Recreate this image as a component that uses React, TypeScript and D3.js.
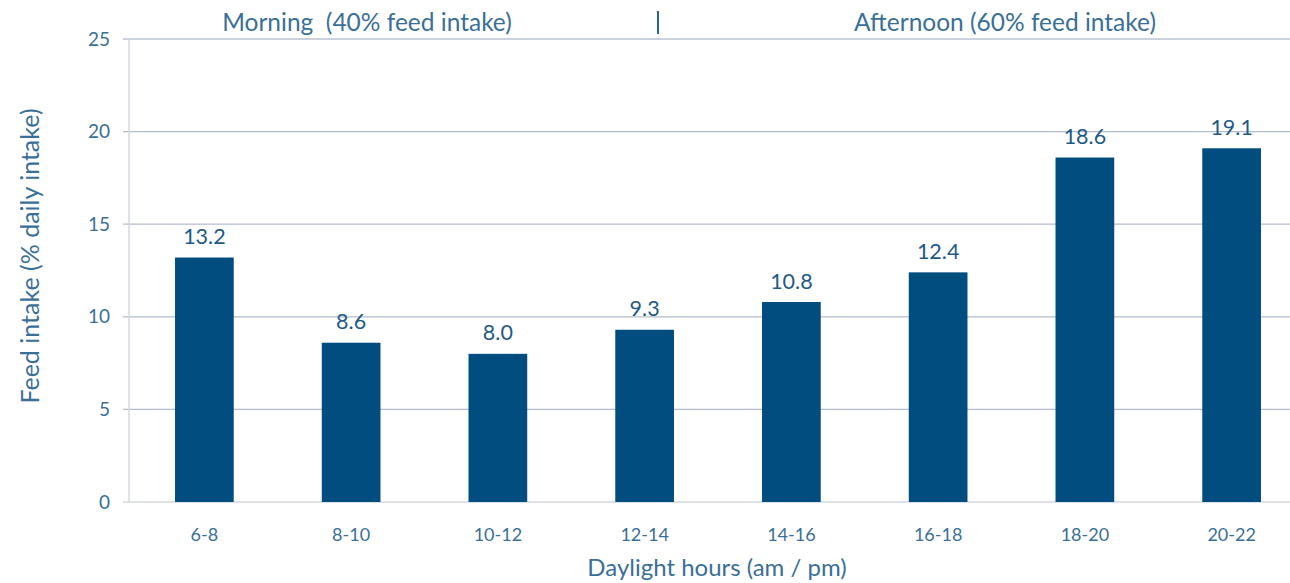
import * as d3 from 'd3'

const categories = ['6-8', '8-10', '10-12', '12-14', '14-16', '16-18', '18-20', '20-22']
const intake = [13.2, 8.6, 8.0, 9.3, 10.8, 12.4, 18.6, 19.1]
const yTicks = [0, 5, 10, 15, 20, 25]

const W = 1290
const H = 583
const margin = { top: 39, left: 131, bottom: 81, right: -15 }
const font = 'Lato, "Open Sans", sans-serif'
const textColor = '#3a6f97'
const barColor = '#014d80'

export default function App() {
  const innerW = W - margin.left - margin.right
  const innerH = H - margin.top - margin.bottom

  const x = d3.scaleBand<string>().domain(categories).range([0, innerW]).paddingInner(0.6).paddingOuter(0.3)
  const y = d3.scaleLinear().domain([0, 25]).range([innerH, 0])

  return (
    <svg width={W} height={H} style={{ position: 'absolute', left: 0, top: 0, background: '#fff' }}>
      <g transform={`translate(${margin.left},${margin.top})`}>
        {/* gridlines */}
        {yTicks.filter((t) => t > 0).map((t) => (
          <line key={t} x1={-8} x2={innerW} y1={y(t)} y2={y(t)} stroke={t === 25 ? '#9aa6bb' : '#b4bccb'} strokeWidth={1.2} />
        ))}
        {/* axes */}
        <line x1={-2} x2={-2} y1={0} y2={innerH} stroke="#d3d8e0" strokeWidth={1.5} />
        <line x1={-8} x2={innerW} y1={innerH} y2={innerH} stroke="#d3d8e0" strokeWidth={1.5} />
        {yTicks.map((t) => (
          <text key={t} x={-21} y={y(t)} dy="0.35em" textAnchor="end" fontFamily={font} fontSize={19} fill={textColor}>
            {t}
          </text>
        ))}
        {categories.map((c, i) => (
          <g key={c}>
            <rect x={x(c)} y={y(intake[i])} width={x.bandwidth()} height={innerH - y(intake[i])} fill={barColor} />
            <text x={(x(c) ?? 0) + x.bandwidth() / 2} y={y(intake[i]) - 21} dy="0.35em" textAnchor="middle" fontFamily={font} fontSize={21.5} fill="#1f5a87">
              {intake[i].toFixed(1)}
            </text>
            <text x={(x(c) ?? 0) + x.bandwidth() / 2} y={innerH + 33} dy="0.35em" textAnchor="middle" fontFamily={font} fontSize={18} fill={textColor}>
              {c}
            </text>
          </g>
        ))}
      </g>
      <text x={367} y={22} dy="0.35em" textAnchor="middle" fontFamily={font} fontSize={24.5} fill={textColor} style={{ whiteSpace: 'pre' }}>
        {'Morning  (40% feed intake)'}
      </text>
      <line x1={658} x2={658} y1={11} y2={34} stroke="#2a6591" strokeWidth={2} />
      <text x={1005} y={22} dy="0.35em" textAnchor="middle" fontFamily={font} fontSize={24.5} fill={textColor}>
        Afternoon (60% feed intake)
      </text>
      <text x={717} y={568} dy="0.35em" textAnchor="middle" fontFamily={font} fontSize={24} fill={textColor}>
        Daylight hours (am / pm)
      </text>
      <text transform="translate(30,256) rotate(-90)" dy="0.35em" textAnchor="middle" fontFamily={font} fontSize={25} fill={textColor}>
        Feed intake (% daily intake)
      </text>
    </svg>
  )
}
